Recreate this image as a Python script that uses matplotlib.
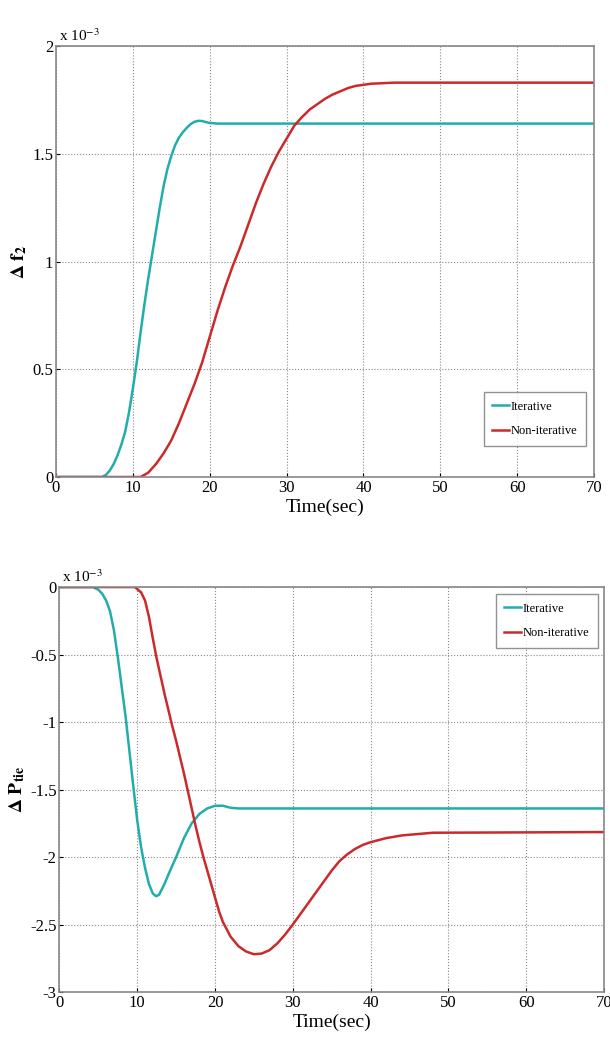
import matplotlib
matplotlib.use("Agg")
import matplotlib.pyplot as plt
import numpy as np

plt.rcParams['font.family'] = ['Liberation Serif', 'DejaVu Serif']
plt.rcParams['mathtext.fontset'] = 'stix'

# top plot: delta f2 (x 1e-3)
t_it_f = [0, 6, 6.5, 7, 7.5, 8, 8.5, 9, 9.5, 10, 10.5, 11, 11.5, 12, 12.5, 13, 13.5, 14, 14.5,
          15, 15.5, 16, 16.5, 17, 17.5, 18, 18.5, 19, 19.5, 20, 21, 70]
f_it = [0, 0, 0.01, 0.03, 0.06, 0.1, 0.15, 0.21, 0.3, 0.41, 0.53, 0.67, 0.8, 0.92, 1.03, 1.14, 1.25, 1.35, 1.43,
        1.49, 1.54, 1.575, 1.6, 1.62, 1.637, 1.648, 1.653, 1.652, 1.647, 1.643, 1.64, 1.64]
t_nit_f = [0, 11, 12, 13, 14, 15, 16, 17, 18, 19, 20, 21, 22, 23, 24, 25, 26, 27, 28, 29, 30,
           31, 32, 33, 34, 35, 36, 37, 38, 39, 41, 44, 70]
f_nit = [0, 0, 0.02, 0.06, 0.11, 0.17, 0.25, 0.34, 0.43, 0.53, 0.65, 0.77, 0.88, 0.98, 1.07, 1.17, 1.27, 1.36, 1.44, 1.51, 1.57,
         1.63, 1.67, 1.705, 1.73, 1.755, 1.775, 1.79, 1.805, 1.815, 1.825, 1.83, 1.83]

# bottom plot: delta P_tie (x 1e-3)
t_it_p = [0, 4.3, 5, 5.5, 6, 6.5, 7, 7.5, 8, 8.5, 9, 9.5, 10, 10.5, 11, 11.5, 12, 12.4, 12.8,
          13.5, 14, 15, 16, 17, 18, 19, 20, 21, 22, 23, 70]
p_it = [0, 0, -0.02, -0.05, -0.1, -0.18, -0.32, -0.52, -0.74, -0.96, -1.22, -1.48, -1.73, -1.93, -2.08, -2.2, -2.27, -2.29, -2.28,
        -2.2, -2.13, -2.0, -1.86, -1.75, -1.68, -1.64, -1.62, -1.62, -1.635, -1.64, -1.64]
t_nit_p = [0, 9.7, 10.5, 11, 11.5, 12, 12.5, 13, 13.5, 14, 14.5, 15, 15.5, 16, 16.5, 17, 17.5, 18, 18.5,
           19, 19.5, 20, 20.5, 21, 22, 23, 24, 25, 26, 27, 28, 29, 30, 31, 32, 33, 34, 35, 36, 37, 38,
           39, 40, 42, 44, 46, 48, 70]
p_nit = [0, 0, -0.04, -0.1, -0.22, -0.38, -0.53, -0.66, -0.79, -0.91, -1.03, -1.14, -1.26, -1.38, -1.51, -1.64, -1.77, -1.89, -2.0,
         -2.1, -2.2, -2.3, -2.4, -2.48, -2.59, -2.66, -2.7, -2.72, -2.715, -2.69, -2.64, -2.575, -2.5, -2.42, -2.34, -2.26, -2.18, -2.1, -2.03, -1.98, -1.94,
         -1.91, -1.89, -1.86, -1.84, -1.83, -1.82, -1.815]

c_it = '#22adad'
c_nit = '#cc2a2a'

fig = plt.figure(figsize=(6.1, 10.53), dpi=100)


def style(ax, yticks, ylims):
    ax.set_xlim(0, 70)
    ax.set_ylim(*ylims)
    ax.set_xticks(range(0, 71, 10))
    ax.set_yticks(yticks)
    ax.set_yticklabels(['%g' % v for v in yticks])
    ax.grid(True, linestyle=':', color='#888888', linewidth=0.8)
    ax.tick_params(direction='in', labelsize=12, length=3, pad=2)
    for s in ax.spines.values():
        s.set_color('#888888')
        s.set_linewidth(1.2)
    ax.set_xlabel('Time(sec)', fontsize=14, labelpad=2)


def legend(ax, loc, anchor):
    ax.legend(loc=loc, bbox_to_anchor=anchor, fontsize=9, frameon=True, fancybox=False,
              edgecolor='#777777', handlelength=1.3, handletextpad=0.15, borderpad=0.7,
              labelspacing=1.0, borderaxespad=0)


ax1 = fig.add_axes([0.0918, 0.547, 0.882, 0.4093])
ax1.plot(t_it_f, f_it, color=c_it, lw=1.8, label='Iterative')
ax1.plot(t_nit_f, f_nit, color=c_nit, lw=1.8, label='Non-iterative')
style(ax1, [0, 0.5, 1, 1.5, 2], (0, 2))
ax1.set_ylabel(r'$\mathbf{\Delta\ f_2}$', fontsize=14, labelpad=2)
ax1.text(0.005, 1.005, r'x 10$^{-3}$', transform=ax1.transAxes, fontsize=11, va='bottom')
legend(ax1, 'lower right', (0.985, 0.072))

ax2 = fig.add_axes([0.0975, 0.0579, 0.8926, 0.3846])
ax2.plot(t_it_p, p_it, color=c_it, lw=1.8, label='Iterative')
ax2.plot(t_nit_p, p_nit, color=c_nit, lw=1.8, label='Non-iterative')
style(ax2, [-3, -2.5, -2, -1.5, -1, -0.5, 0], (-3, 0))
ax2.set_ylabel(r'$\mathbf{\Delta\ P_{tie}}$', fontsize=14, labelpad=2)
ax2.text(0.005, 1.005, r'x 10$^{-3}$', transform=ax2.transAxes, fontsize=11, va='bottom')
legend(ax2, 'upper right', (0.989, 0.983))

fig.savefig('out.png', dpi=100)
